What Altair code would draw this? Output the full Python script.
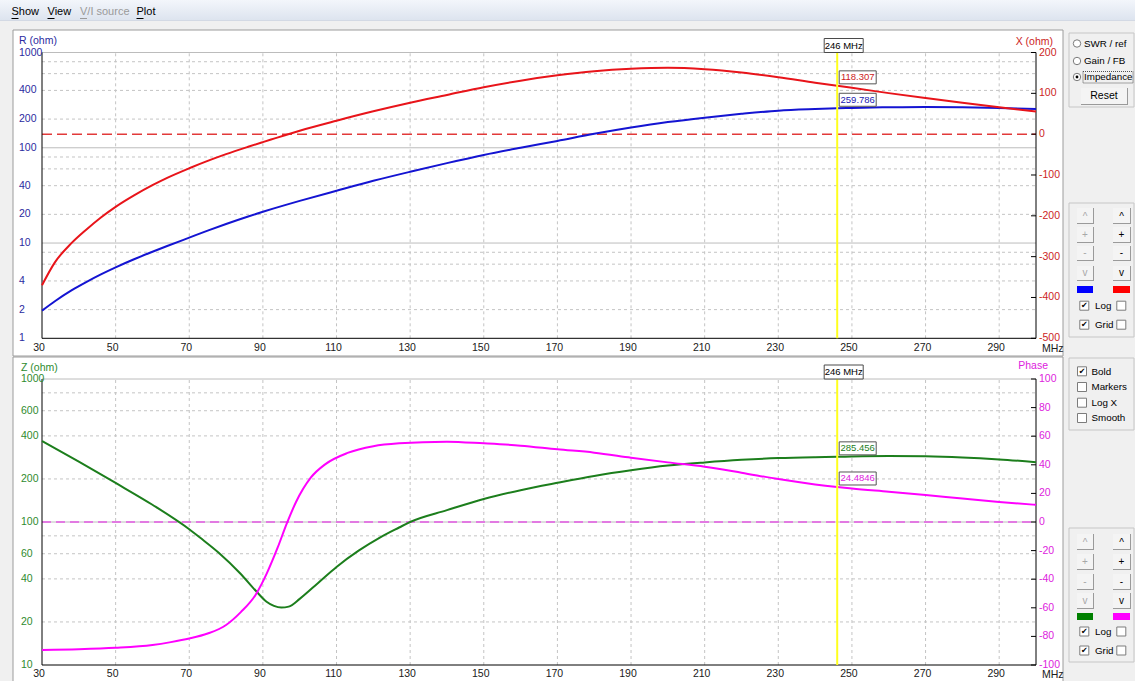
import altair as alt
import pandas as pd

FONT = "Liberation Sans, Arial, sans-serif"
SYMBOL_FONT = "DejaVu Sans"

# ---------------- antenna impedance sweep ----------------
F_RX = [30, 33.5, 38, 42, 46, 50, 55, 60, 64, 70, 75, 80, 86, 90, 93, 96, 100,
        110, 120, 130, 140, 150, 160, 170, 180, 190, 200, 210, 220, 230, 240,
        246, 250, 260, 270, 280, 290, 300]
R_OHM = [1.95, 2.45, 3.18, 3.89, 4.68, 5.55, 6.75, 8.09, 9.3, 11.4, 13.5, 15.85,
         19.0, 21.3, 23.1, 25.0, 27.7, 35.4, 45, 56, 69, 84, 100, 118, 140, 163,
         186, 207, 227, 245, 255, 259.786, 262, 266, 268, 266, 261, 255]
X_OHM = [-370, -314, -267, -234, -204, -178, -150, -125, -107, -83.5, -65.5, -49,
         -31, -19.5, -11, -2.5, 8.5, 33, 56, 77, 96, 115, 131, 144, 154, 160,
         162.5, 159, 151, 139.5, 126, 118.307, 113.5, 100.5, 88.5, 77, 66, 55.5]

F_Z = [30, 40, 50, 60, 70, 73, 78, 84, 88, 91, 93, 95, 97, 100, 105, 110, 116,
       122, 127, 130, 140, 150, 160, 170, 180, 190, 200, 210, 220, 230, 240,
       246, 250, 260, 270, 280, 290, 300]
Z_OHM = [368, 264, 187.5, 132, 89, 77.5, 61, 43.3, 33.2, 27.7, 25.9, 25.2, 25.6,
         29.0, 37.5, 48.5, 63, 78.5, 91.5, 100, 121, 145, 167, 188, 210, 230,
         248, 261, 272, 280, 284, 285.456, 287, 289, 288, 283, 274, 262]

F_PH = [30, 40, 50, 60, 65, 70, 75, 80, 84, 88, 91, 94, 96.5, 99, 103, 107, 113,
        120, 127, 140, 150, 160, 170, 180, 190, 200, 210, 220, 230, 240, 246,
        250, 260, 270, 280, 290, 300]
PHASE_DEG = [-89.5, -89, -88, -86, -84, -81.5, -78, -72, -63, -51, -36.3, -18,
             -1, 14, 31, 40.5, 48.3, 53, 55, 56.2, 55, 53.4, 50.8, 48.5,
             45, 41.7, 38.7, 34.5, 30, 26.3, 24.4846, 23.4, 21.2, 18.9, 16.4,
             14, 12]

CURSOR_MHZ = 246

# ---------------- axes ----------------
F_MIN, F_MAX = 30, 300
FREQ_TICKS = [30, 50, 70, 90, 110, 130, 150, 170, 190, 210, 230, 250, 270, 290]
FREQ_GRID = [50, 70, 90, 110, 130, 150, 170, 190, 210, 230, 250, 270, 290]

R_TICKS = [1000, 400, 200, 100, 40, 20, 10, 4, 2, 1]
R_MINOR = [2, 4, 6, 8, 20, 40, 60, 80, 200, 400, 600, 800]
R_DECADE = [10, 100, 1000]
X_TICKS = [200, 100, 0, -100, -200, -300, -400, -500]

Z_TICKS = [1000, 600, 400, 200, 100, 60, 40, 20, 10]
Z_MINOR = [20, 40, 60, 80, 200, 400, 600, 800]
Z_DECADE = [100, 1000]
PH_TICKS = [100, 80, 60, 40, 20, 0, -20, -40, -60, -80, -100]

# ---------------- scales (plot rectangles of the two panels) ----------------
XS = alt.Scale(domain=[F_MIN, F_MAX], range=[42, 1036], nice=False, zero=False)
R_SC = alt.Scale(type="log", domain=[1, 1000], range=[338.3, 52.5], nice=False)
X_SC = alt.Scale(domain=[-500, 200], range=[338.3, 52.5], nice=False, zero=False)
Z_SC = alt.Scale(type="log", domain=[10, 1000], range=[665, 379], nice=False)
P_SC = alt.Scale(domain=[-100, 100], range=[665, 379], nice=False, zero=False)

C_R, C_X, C_Z, C_P = "#1414d2", "#e8141a", "#1c7e1c", "#ff00ff"
LBL_R, LBL_X, LBL_Z, LBL_P = "#2a2aa0", "#cc2424", "#2e8b2e", "#dd22dd"
GRID = "#c4c4c4"
AXIS_FS = 10.5
SIDE_FS = 9.8


def fx(field="f"):
    return alt.X(f"{field}:Q", scale=XS, axis=None)


def fy(sc, field="v"):
    return alt.Y(f"{field}:Q", scale=sc, axis=None)


def xd(v):
    return alt.XDatum(v, type="quantitative", scale=XS, axis=None)


def yd(v, sc):
    return alt.YDatum(v, type="quantitative", scale=sc, axis=None)


def hlines(values, sc, **mark):
    return alt.Chart(pd.DataFrame({"v": values})).mark_rule(**mark).encode(
        x=xd(F_MIN), x2=alt.X2Datum(F_MAX), y=fy(sc))


def vlines(values, sc, lo, hi, **mark):
    return alt.Chart(pd.DataFrame({"f": values})).mark_rule(**mark).encode(
        x=fx(), y=yd(lo, sc), y2=alt.Y2Datum(hi))


def curve(freqs, vals, sc, color):
    df = pd.DataFrame({"f": freqs, "v": vals})
    return alt.Chart(df).mark_line(color=color, strokeWidth=2,
                                   interpolate="monotone").encode(x=fx(), y=fy(sc))


def y_labels(values, sc, at_f, dx, color):
    df = pd.DataFrame({"v": values, "t": [str(v) for v in values]})
    return alt.Chart(df).mark_text(align="left", baseline="middle", dx=dx,
                                   font=FONT, fontSize=AXIS_FS, color=color).encode(
        x=xd(at_f), y=fy(sc), text="t:N")


def right_ticks(values, sc):
    return alt.Chart(pd.DataFrame({"v": values})).mark_rule(
        color="black", strokeWidth=1, xOffset=-5, x2Offset=0).encode(
        x=xd(F_MAX), x2=alt.X2Datum(F_MAX), y=fy(sc))


def x_labels(sc, lo, dy):
    df = pd.DataFrame({"f": FREQ_TICKS, "t": [str(v) for v in FREQ_TICKS]})
    ticks = alt.Chart(df).mark_text(align="center", baseline="middle", dx=-3, dy=dy,
                                    font=FONT, fontSize=AXIS_FS, color="#202020").encode(
        x=fx(), y=yd(lo, sc), text="t:N")
    unit = alt.Chart(pd.DataFrame({"f": [F_MAX], "t": ["MHz"]})).mark_text(
        align="left", baseline="middle", dx=6, dy=dy + 1, font=FONT, fontSize=AXIS_FS,
        color="#202020").encode(x=fx(), y=yd(lo, sc), text="t:N")
    return [ticks, unit]


def cursor(sc, lo, hi):
    df = pd.DataFrame({"f": [CURSOR_MHZ], "t": [f"{CURSOR_MHZ} MHz"]})
    line = alt.Chart(df).mark_rule(color="#ffff1e", strokeWidth=2).encode(
        x=fx(), y=yd(lo, sc), y2=alt.Y2Datum(hi))
    box = alt.Chart(df).mark_rect(fill="white", stroke="#4a4a4a", strokeWidth=1,
                                  xOffset=-13, x2Offset=26, yOffset=-14,
                                  y2Offset=0).encode(
        x=fx(), x2=alt.X2("f:Q"), y=yd(hi, sc), y2=alt.Y2Datum(hi))
    txt = alt.Chart(df).mark_text(align="center", baseline="middle", dx=6.5, dy=-7,
                                  font=FONT, fontSize=9.5, color="black").encode(
        x=fx(), y=yd(hi, sc), text="t:N")
    return [line, box, txt]


def readout(freqs, vals, sc, color):
    v = vals[freqs.index(CURSOR_MHZ)]
    df = pd.DataFrame({"f": [CURSOR_MHZ], "v": [v], "t": [f"{v:g}"]})
    box = alt.Chart(df).mark_rect(fill="white", stroke="#555555", strokeWidth=1,
                                  xOffset=2, x2Offset=39, yOffset=-15,
                                  y2Offset=-2).encode(
        x=fx(), x2=alt.X2("f:Q"), y=fy(sc), y2=alt.Y2("v:Q"))
    txt = alt.Chart(df).mark_text(align="center", baseline="middle", dx=20.5,
                                  dy=-8.5, font=FONT, fontSize=9.5, color=color).encode(
        x=fx(), y=fy(sc), text="t:N")
    return [box, txt]


def panel(ls, rs, lo, hi, minor, decade, lticks, rticks, lcolor, rcolor, ldx,
          xdy, zero_mark):
    layers = [
        hlines(minor, ls, color=GRID, strokeWidth=1, strokeDash=[3, 3]),
        vlines(FREQ_GRID, ls, lo, hi, color=GRID, strokeWidth=1, strokeDash=[3, 3]),
        hlines(decade, ls, color="#bcbcbc", strokeWidth=1),
        hlines([0], rs, **zero_mark),
        vlines([F_MIN, F_MAX], ls, lo, hi, color="black", strokeWidth=1),
        hlines([lo], ls, color="black", strokeWidth=1),
        right_ticks(rticks, rs),
        y_labels(lticks, ls, F_MIN, ldx, lcolor),
        y_labels(rticks, rs, F_MAX, 3, rcolor),
    ]
    layers += x_labels(ls, lo, xdy)
    return layers


layers = []

# ---------------- window chrome (background) ----------------
menu_bar = alt.Chart(pd.DataFrame({"x": [0], "x2": [1135], "y": [0], "y2": [20]})).mark_rect(
    fill=alt.Gradient(gradient="linear",
                      stops=[alt.GradientStop(color="#f3f6fb", offset=0),
                             alt.GradientStop(color="#dde4ef", offset=1)],
                      x1=0, x2=0, y1=0, y2=1)).encode(
    x=alt.X("x:Q", scale=None), x2="x2:Q", y=alt.Y("y:Q", scale=None), y2="y2:Q")
layers.append(menu_bar)

BACK_RECTS = [
    # x, x2, y, y2, fill, stroke
    (0, 1135, 20, 21, "#d3d9e4", "transparent"),
    (13, 1063, 30, 356, "white", "#9c9c9c"),
    (13, 1063, 357, 682, "white", "#9c9c9c"),
]


def rect_layer(rows):
    df = pd.DataFrame(rows, columns=["x", "x2", "y", "y2", "fill", "stroke"])
    return alt.Chart(df).mark_rect(strokeWidth=1).encode(
        x=alt.X("x:Q", scale=None), x2="x2:Q",
        y=alt.Y("y:Q", scale=None), y2="y2:Q",
        fill=alt.Fill("fill:N", scale=None),
        stroke=alt.Stroke("stroke:N", scale=None))


def text_layer(rows, align, font=FONT):
    df = pd.DataFrame(rows, columns=["x", "y", "t", "c", "s"])
    return alt.Chart(df).mark_text(align=align, baseline="middle", font=font).encode(
        x=alt.X("x:Q", scale=None), y=alt.Y("y:Q", scale=None), text="t:N",
        color=alt.Color("c:N", scale=None), size=alt.Size("s:Q", scale=None))


layers.append(rect_layer(BACK_RECTS))

# ---------------- top panel: R (log) and X (linear) ----------------
layers += panel(R_SC, X_SC, 1, 1000, R_MINOR, R_DECADE, R_TICKS, X_TICKS,
                LBL_R, LBL_X, -23, 10,
                dict(color="#e23a3a", strokeWidth=1.5, strokeDash=[10, 5]))
layers.append(curve(F_RX, R_OHM, R_SC, C_R))
layers.append(curve(F_RX, X_OHM, X_SC, C_X))
layers += cursor(R_SC, 1, 1000)
layers += readout(F_RX, X_OHM, X_SC, "#cc2222")
layers += readout(F_RX, R_OHM, R_SC, "#2020b0")

# ---------------- bottom panel: |Z| (log) and phase ----------------
layers += panel(Z_SC, P_SC, 10, 1000, Z_MINOR, Z_DECADE, Z_TICKS, PH_TICKS,
                LBL_Z, LBL_P, -21, 9,
                dict(color="#e27ae2", strokeWidth=2, strokeDash=[9, 5]))
layers.append(curve(F_Z, Z_OHM, Z_SC, C_Z))
layers.append(curve(F_PH, PHASE_DEG, P_SC, C_P))
layers += cursor(Z_SC, 10, 1000)
layers += readout(F_Z, Z_OHM, Z_SC, "#1c7e1c")
layers += readout(F_PH, PHASE_DEG, P_SC, "#dd22dd")

# ---------------- side controls ----------------
GROUP_BOXES = [(1069, 1134, 33, 107), (1069, 1134, 203, 337),
               (1069, 1134, 358, 430), (1069, 1134, 528, 662)]
NUDGE_ROWS_TOP = [(208, 223), (227, 242), (246, 260), (266, 280)]
NUDGE_ROWS_BOT = [(534, 549), (554, 569), (574, 589), (593, 608)]
NUDGE_SYMBOLS = ["^", "+", "-", "v"]
NUDGE_COLS = [(1077, 1093, "#a8a8a8"), (1113, 1130, "black")]
SWATCHES = [(1077, 1093, 286, 293, "#0000ff"), (1113, 1130, 286, 293, "#ff0000"),
            (1077, 1093, 613, 620, "#008000"), (1113, 1130, 613, 620, "#ff00ff")]
CHECKBOXES = [(1084.3, 305.7, True), (1121.3, 305.7, False),
              (1084.3, 324.7, True), (1121.3, 324.7, False),
              (1082, 371.3, True), (1082, 387, False), (1082, 402.7, False),
              (1082, 418, False),
              (1084.3, 631.5, True), (1121.3, 631.5, False),
              (1084.3, 650.5, True), (1121.3, 650.5, False)]
RADIOS = [(1077, 43.5, False), (1077, 61, False), (1077, 77, True)]

side_rects = []
for (x0, x1, y0, y1) in GROUP_BOXES:
    side_rects.append((x0, x1, y0, y1, "transparent", "#c6c6c6"))
buttons = [(1081, 1127, 88, 104)]
btn_text = [(1104, 96, "Reset", "black", 10.5)]
for rows in (NUDGE_ROWS_TOP, NUDGE_ROWS_BOT):
    for (y0, y1), sym in zip(rows, NUDGE_SYMBOLS):
        for (x0, x1, col) in NUDGE_COLS:
            buttons.append((x0, x1, y0, y1))
            btn_text.append(((x0 + x1) / 2, (y0 + y1) / 2 + (1.5 if sym == "^" else 0),
                             sym, col, 10))
for (x0, x1, y0, y1) in buttons:
    side_rects.append((x0, x1 + 1, y0, y1 + 1, "#9a9a9a", "transparent"))
    side_rects.append((x0, x1, y0, y1, "#f4f4f4", "transparent"))
for (x0, x1, y0, y1, col) in SWATCHES:
    side_rects.append((x0, x1, y0, y1, col, "transparent"))
for (cx, cy, _) in CHECKBOXES:
    side_rects.append((cx - 4.5, cx + 4.5, cy - 4.5, cy + 4.5, "white", "#7c7c7c"))
layers.append(rect_layer(side_rects))

focus = alt.Chart(pd.DataFrame({"x": [1083], "x2": [1133], "y": [71.5], "y2": [83]})).mark_rect(
    fill="transparent", stroke="#505050", strokeWidth=1, strokeDash=[1, 1]).encode(
    x=alt.X("x:Q", scale=None), x2="x2:Q", y=alt.Y("y:Q", scale=None), y2="y2:Q")
layers.append(focus)

radio_df = pd.DataFrame({"x": [r[0] for r in RADIOS], "y": [r[1] for r in RADIOS]})
layers.append(alt.Chart(radio_df).mark_circle(fill="white", stroke="#7a7a7a",
                                              strokeWidth=1, size=55, opacity=1).encode(
    x=alt.X("x:Q", scale=None), y=alt.Y("y:Q", scale=None)))
dot_df = pd.DataFrame({"x": [r[0] for r in RADIOS if r[2]],
                       "y": [r[1] for r in RADIOS if r[2]]})
layers.append(alt.Chart(dot_df).mark_circle(color="black", size=8, opacity=1).encode(
    x=alt.X("x:Q", scale=None), y=alt.Y("y:Q", scale=None)))

checks = [(cx, cy + 0.5, "\u2714", "black", 8) for (cx, cy, on) in CHECKBOXES if on]
layers.append(text_layer(checks, "center", SYMBOL_FONT))
layers.append(text_layer(btn_text, "center"))

# ---------------- menu, titles, control captions ----------------
LEFT_TEXT = [
    (11.5, 11.5, "Show", "black", 11),
    (47.5, 11.5, "View", "black", 11),
    (80, 11.5, "V/I source", "#9a9a9a", 11),
    (136.5, 11.5, "Plot", "black", 11),
    (19, 40.5, "R (ohm)", LBL_R, 10.5),
    (21, 367.5, "Z (ohm)", LBL_Z, 10.5),
    (1084, 43.5, "SWR / ref", "black", SIDE_FS),
    (1084, 61, "Gain / FB", "black", SIDE_FS),
    (1084, 77, "Impedance", "black", SIDE_FS),
    (1095, 306, "Log", "black", SIDE_FS),
    (1095, 324.5, "Grid", "black", SIDE_FS),
    (1091.5, 371.5, "Bold", "black", SIDE_FS),
    (1091.5, 387, "Markers", "black", SIDE_FS),
    (1091.5, 403, "Log X", "black", SIDE_FS),
    (1091.5, 418, "Smooth", "black", SIDE_FS),
    (1095, 631.5, "Log", "black", SIDE_FS),
    (1095, 650.5, "Grid", "black", SIDE_FS),
]
RIGHT_TEXT = [
    (1053, 41.5, "X (ohm)", LBL_X, 10.5),
    (1048, 366, "Phase", LBL_P, 10.5),
]
layers.append(text_layer(LEFT_TEXT, "left"))
layers.append(text_layer(RIGHT_TEXT, "right"))

UNDERLINES = [(11.5, 18.5, 18, 19, "black", "transparent"),
              (47.5, 54.5, 18, 19, "black", "transparent"),
              (80, 87, 18, 19, "#9a9a9a", "transparent"),
              (136.5, 143.5, 18, 19, "black", "transparent")]
layers.append(rect_layer(UNDERLINES))

chart = alt.layer(*layers).resolve_scale(
    x="independent", y="independent", color="independent", fill="independent",
    stroke="independent", size="independent",
).properties(
    width=1135, height=681, padding=0, background="#f0f0f0",
    autosize=alt.AutoSizeParams(type="none"),
).configure_view(strokeWidth=0)

chart.save("out.html", embed_options={"renderer": "svg", "actions": False})
